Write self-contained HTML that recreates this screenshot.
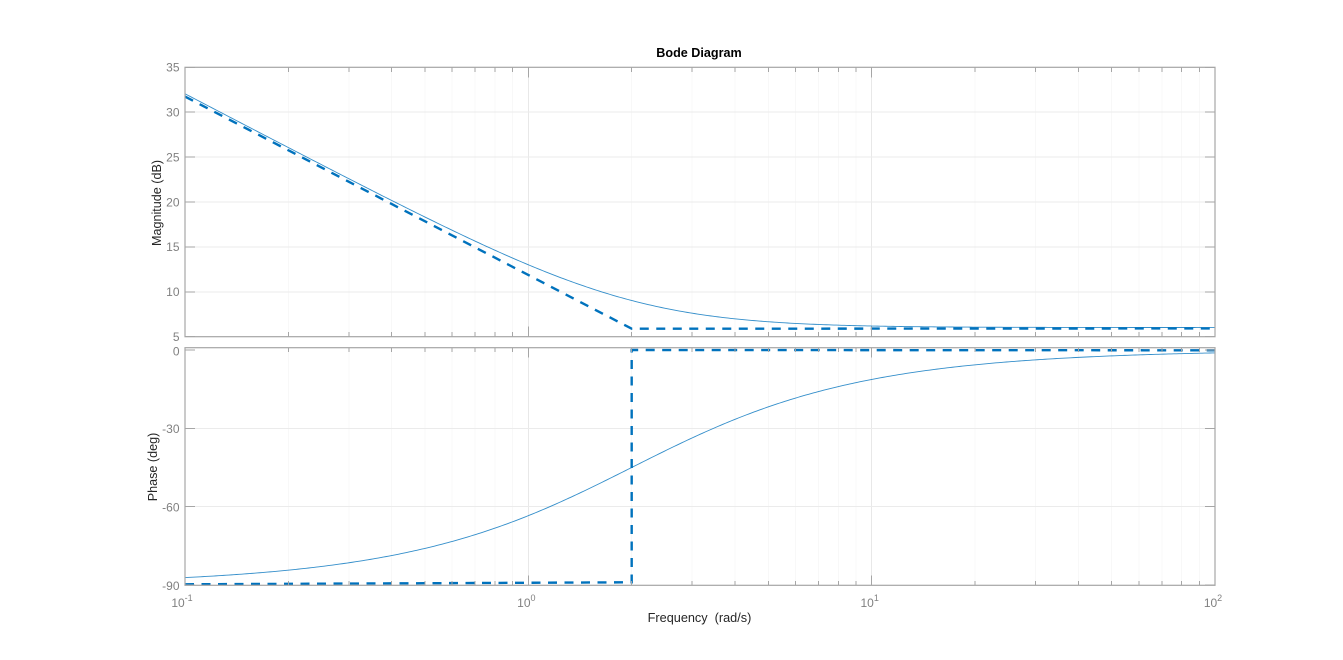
<!DOCTYPE html>
<html><head><meta charset="utf-8">
<style>
html,body{margin:0;padding:0;background:#fff;}
svg{display:block;}
text{font-family:"Liberation Sans",Arial,sans-serif;}
</style></head>
<body>
<svg id="s" width="1343" height="660" viewBox="0 0 1343 660" xmlns="http://www.w3.org/2000/svg">
<rect width="1343" height="660" fill="#fff"/>
<g id="grid"></g>
<g id="curves"></g>
<g id="axes"></g>
<g id="labels" fill="#808080" font-size="12"></g>
<text x="699" y="57" text-anchor="middle" font-size="12.6" font-weight="bold" fill="#000">Bode Diagram</text>
<text x="699.5" y="622" text-anchor="middle" font-size="12.7" fill="#262626" xml:space="preserve">Frequency  (rad/s)</text>
<text transform="translate(161,203) rotate(-90)" text-anchor="middle" font-size="12.6" fill="#262626">Magnitude (dB)</text>
<text transform="translate(157,467) rotate(-90)" text-anchor="middle" font-size="12.6" fill="#262626">Phase (deg)</text>
</svg>
<script>
(function(){
var NS="http://www.w3.org/2000/svg";
var L=185,R=1215,DEC=(R-L)/3;
var MT=67.3,MB=336.7; // 35 .. 5 dB
var PT=347.7,PB=585.3; // phase
function X(w){return L+(Math.log10(w)+1)*DEC;}
function YM(db){return MT+(35-db)*(MB-MT)/30;}
function YP(d){return 349.9-d*2.613;}
function el(parent,tag,attrs,txt){var e=document.createElementNS(NS,tag);for(var k in attrs)e.setAttribute(k,attrs[k]);if(txt!==undefined)e.textContent=txt;document.getElementById(parent).appendChild(e);return e;}
function line(p,x1,y1,x2,y2,c,w){el(p,'line',{x1:x1,y1:y1,x2:x2,y2:y2,stroke:c,'stroke-width':w||1,'shape-rendering':'crispEdges'});}
var panels=[[MT,MB],[PT,PB]];
// grid
panels.forEach(function(p){
  for(var d=-1;d<2;d++){for(var k=2;k<10;k++){var x=X(k*Math.pow(10,d));line('grid',x,p[0],x,p[1],'#f8f8f8',1);}}
  [1,10].forEach(function(w){line('grid',X(w),p[0],X(w),p[1],'#e8e8e8',1);});
});
[10,15,20,25,30].forEach(function(v){line('grid',L,YM(v),R,YM(v),'#ebebeb',1);});
[-30,-60].forEach(function(v){line('grid',L,YP(v),R,YP(v),'#ebebeb',1);});
// axes frames and ticks
var ac='#a6a6a6';
panels.forEach(function(p){
  el('axes','rect',{x:L,y:p[0],width:R-L,height:p[1]-p[0],fill:'none',stroke:ac,'stroke-width':1.2});
  for(var d=-1;d<2;d++){for(var k=1;k<10;k++){var w=k*Math.pow(10,d);var x=X(w);var len=(k==1)?10:4.5;
    line('axes',x,p[1],x,p[1]-len,ac,1);line('axes',x,p[0],x,p[0]+len,ac,1);}}
});
[5,10,15,20,25,30,35].forEach(function(v){var y=YM(v);line('axes',L,y,L+10,y,ac,1);line('axes',R,y,R-10,y,ac,1);
  el('labels','text',{x:179.5,y:y+4.3,'text-anchor':'end'},String(v));});
[0,-30,-60,-90].forEach(function(v){var y=YP(v);line('axes',L,y,L+10,y,ac,1);line('axes',R,y,R-10,y,ac,1);
  el('labels','text',{x:179.5,y:y+4.8+(v==0?0.8:0),'text-anchor':'end'},String(v));});
// x tick labels
[[-1,'-1'],[0,'0'],[1,'1'],[2,'2']].forEach(function(a){
  var x=L+(a[0]+1)*DEC;
  var t=el('labels','text',{x:x+ (a[1].length>1?-3:-2),y:607,'text-anchor':'middle'});
  var t1=document.createElementNS(NS,'tspan');t1.textContent='10';t.appendChild(t1);
  var t2=document.createElementNS(NS,'tspan');t2.setAttribute('dy','-6');t2.setAttribute('font-size','9');t2.textContent=a[1];t.appendChild(t2);
});
// curves
var n=400,dm='',dp='';
for(var i=0;i<=n;i++){var lw=-1+3*i/n,w=Math.pow(10,lw);
  var mag=20*Math.log10(Math.sqrt(4+16/(w*w)));
  var ph=-Math.atan(2/w)*180/Math.PI;
  dm+=(i?'L':'M')+X(w).toFixed(2)+','+YM(mag).toFixed(2);
  dp+=(i?'L':'M')+X(w).toFixed(2)+','+YP(ph).toFixed(2);}
var blue='#0072BD';
el('curves','path',{d:dm,fill:'none',stroke:blue,'stroke-width':0.9,'stroke-opacity':0.8});
el('curves','path',{d:dp,fill:'none',stroke:blue,'stroke-width':0.9,'stroke-opacity':0.8});
var x2=X(2);
var am='M'+X(0.1)+','+(YM(20*Math.log10(40))+2.7)+'L'+x2+','+(YM(20*Math.log10(2))+1.2)+'L'+R+','+(YM(20*Math.log10(2))+0.9);
el('curves','path',{d:am,fill:'none',stroke:blue,'stroke-width':2.4,'stroke-dasharray':'9 7.5'});
var ap='M'+L+',584.3L'+x2+',582.3L'+x2+',350L'+R+',350.3';
el('curves','path',{d:ap,fill:'none',stroke:blue,'stroke-width':2.4,'stroke-dasharray':'9 7.5'});
})();
</script>
</body></html>
